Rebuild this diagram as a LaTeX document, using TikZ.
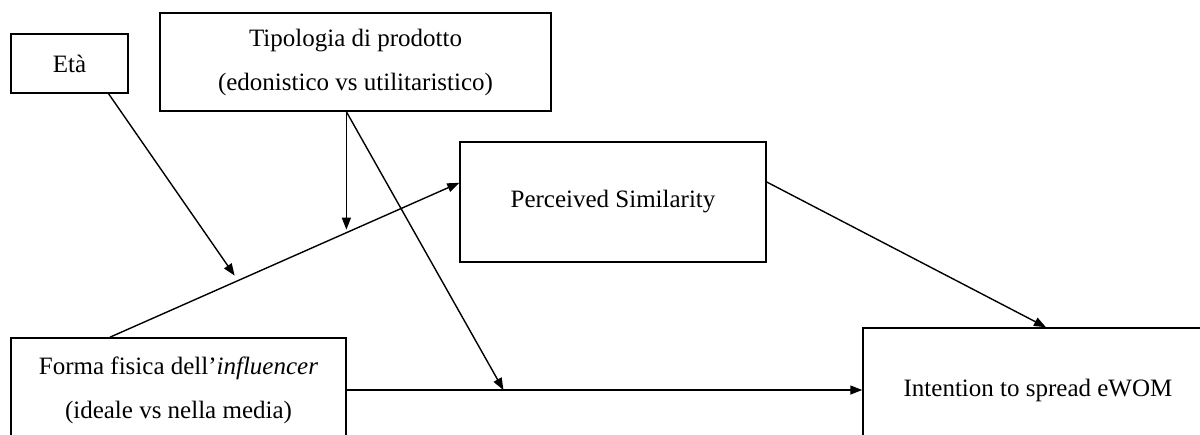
\documentclass[tikz,border=0pt]{standalone}
\usepackage{fontspec}
\setmainfont{Liberation Serif}
\usetikzlibrary{calc}
\usetikzlibrary{arrows.meta}
\newcommand*{\boxfont}{\fontsize{25}{44}\selectfont}

\begin{document}
\begin{tikzpicture}[x=1pt, y=-1pt,
    box/.style  = {draw, line width=1.5pt, align=center, font=\boxfont, inner sep=0pt},
    link/.style = {line width=1.4pt, -{Triangle[length=12pt, width=9pt]}}]
    \useasboundingbox (0,0) rectangle (1200,434);
    \node [box, minimum width=117pt, minimum height=59pt]  (eta)    at (69.5,63.5) {Età};
    \node [box, minimum width=391pt, minimum height=98pt]  (tipo)   at (355.5,62)  {Tipologia di prodotto\\(edonistico vs utilitaristico)};
    \node [box, minimum width=306pt, minimum height=120pt] (perc)   at (613,202)   {Perceived Similarity};
    \node [box, minimum width=335pt, minimum height=104pt] (forma)  at (178.5,390) {Forma fisica dell’\textit{influencer}\\(ideale vs nella media)};
    \node [box, minimum width=350pt, minimum height=124pt] (intent) at (1038,390)  {Intention to spread eWOM};
        % main paths
        \draw [link] ($(forma.north west)!0.296!(forma.north east)$) -- coordinate[pos=0.367] (mEta) coordinate[pos=0.677] (mTipo) ($(perc.north west)!0.342!(perc.south west)$);
        \draw [link] (forma.east) -- coordinate[pos=0.304] (mForma) (intent.west);
        \draw [link] ($(perc.east)+(0,-20)$) -- ($(intent.north)+(8,0)$);
        % moderators
        \draw [link, shorten >=6pt] ($(eta.south west)!0.83!(eta.south east)$) -- (mEta);
        \draw [link, shorten >=3pt] (mTipo |- tipo.south) -- (mTipo);
        \draw [link] (mTipo |- tipo.south) -- (mForma);
    \end{tikzpicture}
\end{document}
